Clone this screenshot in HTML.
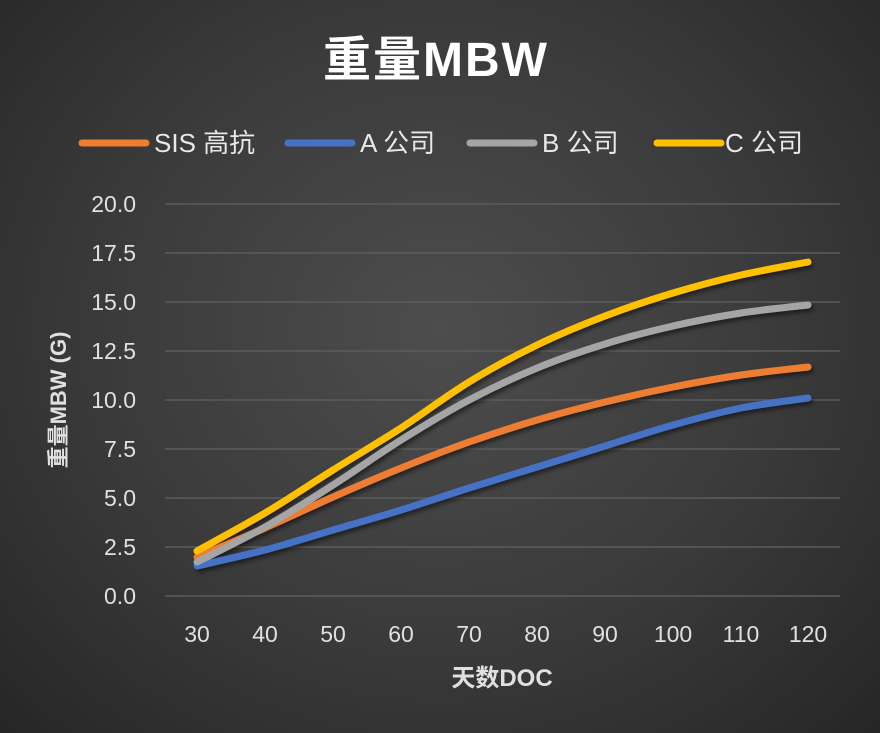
<!DOCTYPE html>
<html><head><meta charset="utf-8"><style>
html,body{margin:0;padding:0}
body{width:880px;height:733px;overflow:hidden;background:radial-gradient(ellipse at 50% 45%,#4d4d4d 0%,#3a3a3a 55%,#262626 100%);font-family:"Liberation Sans","Noto Sans CJK SC",sans-serif}
</style></head><body>
<svg width="880" height="733" xmlns="http://www.w3.org/2000/svg" style="position:absolute;left:0;top:0">
<defs><filter id="sh" x="-10%" y="-10%" width="120%" height="130%"><feDropShadow dx="2" dy="3" stdDeviation="2" flood-color="#000" flood-opacity="0.5"/></filter></defs>
<text x="436" y="76" fill="#fff" font-size="48" font-weight="bold" text-anchor="middle" letter-spacing="2" font-family="Liberation Sans,Noto Sans CJK SC,sans-serif">重量MBW</text>
<g font-size="26" fill="#e8e8e8" font-family="Liberation Sans,Noto Sans CJK SC,sans-serif">
<line x1="82" y1="143" x2="146" y2="143" stroke="#ed7d31" stroke-width="7" stroke-linecap="round"/><text x="154" y="152">SIS 高抗</text>
<line x1="288" y1="143" x2="352" y2="143" stroke="#4472c4" stroke-width="7" stroke-linecap="round"/><text x="360" y="152">A 公司</text>
<line x1="470" y1="143" x2="534" y2="143" stroke="#a5a5a5" stroke-width="7" stroke-linecap="round"/><text x="542" y="152">B 公司</text>
<line x1="657" y1="143" x2="721" y2="143" stroke="#ffc000" stroke-width="7" stroke-linecap="round"/><text x="725" y="152">C 公司</text>
</g>
<g stroke="#5c5c5c" stroke-width="1.5">
<line x1="165" x2="840" y1="204" y2="204"/><line x1="165" x2="840" y1="253" y2="253"/><line x1="165" x2="840" y1="302" y2="302"/><line x1="165" x2="840" y1="351" y2="351"/><line x1="165" x2="840" y1="400" y2="400"/><line x1="165" x2="840" y1="449" y2="449"/><line x1="165" x2="840" y1="498" y2="498"/><line x1="165" x2="840" y1="547" y2="547"/><line x1="165" x2="840" y1="596" y2="596"/>
</g>
<g fill="#e0e0e0" font-size="23" text-anchor="end">
<text x="136" y="212">20.0</text><text x="136" y="261">17.5</text><text x="136" y="310">15.0</text><text x="136" y="359">12.5</text><text x="136" y="408">10.0</text><text x="136" y="457">7.5</text><text x="136" y="506">5.0</text><text x="136" y="555">2.5</text><text x="136" y="604">0.0</text>
</g>
<g fill="#e0e0e0" font-size="23" text-anchor="middle">
<text x="197" y="642">30</text><text x="265" y="642">40</text><text x="333" y="642">50</text><text x="401" y="642">60</text><text x="469" y="642">70</text><text x="537" y="642">80</text><text x="605" y="642">90</text><text x="673" y="642">100</text><text x="741" y="642">110</text><text x="808" y="642">120</text>
</g>
<text x="502" y="686" fill="#e0e0e0" font-size="24" font-weight="bold" text-anchor="middle">天数DOC</text>
<text transform="translate(66,400) rotate(-90)" fill="#e0e0e0" font-size="22" font-weight="bold" text-anchor="middle">重量MBW (G)</text>
<g fill="none" stroke-width="7" stroke-linecap="round" stroke-linejoin="round" filter="url(#sh)" id="lines"></g>
</svg>
<script>
var xs=[197,265,333,401,469,537,605,673,741,808];
var S=[["#4472c4",[566,550,530,510,488,467,446,425,408,398]],["#ed7d31",[557,528,497,468,442,420,402,387,375,367]],["#a5a5a5",[562,527,485,440,400,368,344,326,313,305]],["#ffc000",[551,513,470,428,382,345,316,293,275,262]]];
var g=document.getElementById('lines');
S.forEach(function(s){var y=s[1];var d="M"+xs[0]+","+y[0];
for(var i=0;i<9;i++){var p0=i?i-1:i,p3=i+2<10?i+2:i+1;
var c1x=xs[i]+(xs[i+1]-xs[p0])/6,c1y=y[i]+(y[i+1]-y[p0])/6,c2x=xs[i+1]-(xs[p3]-xs[i])/6,c2y=y[i+1]-(y[p3]-y[i])/6;
d+=" C"+c1x+","+c1y+" "+c2x+","+c2y+" "+xs[i+1]+","+y[i+1];}
var p=document.createElementNS("http://www.w3.org/2000/svg","path");p.setAttribute("d",d);p.setAttribute("stroke",s[0]);g.appendChild(p);});
</script>
</body></html>
